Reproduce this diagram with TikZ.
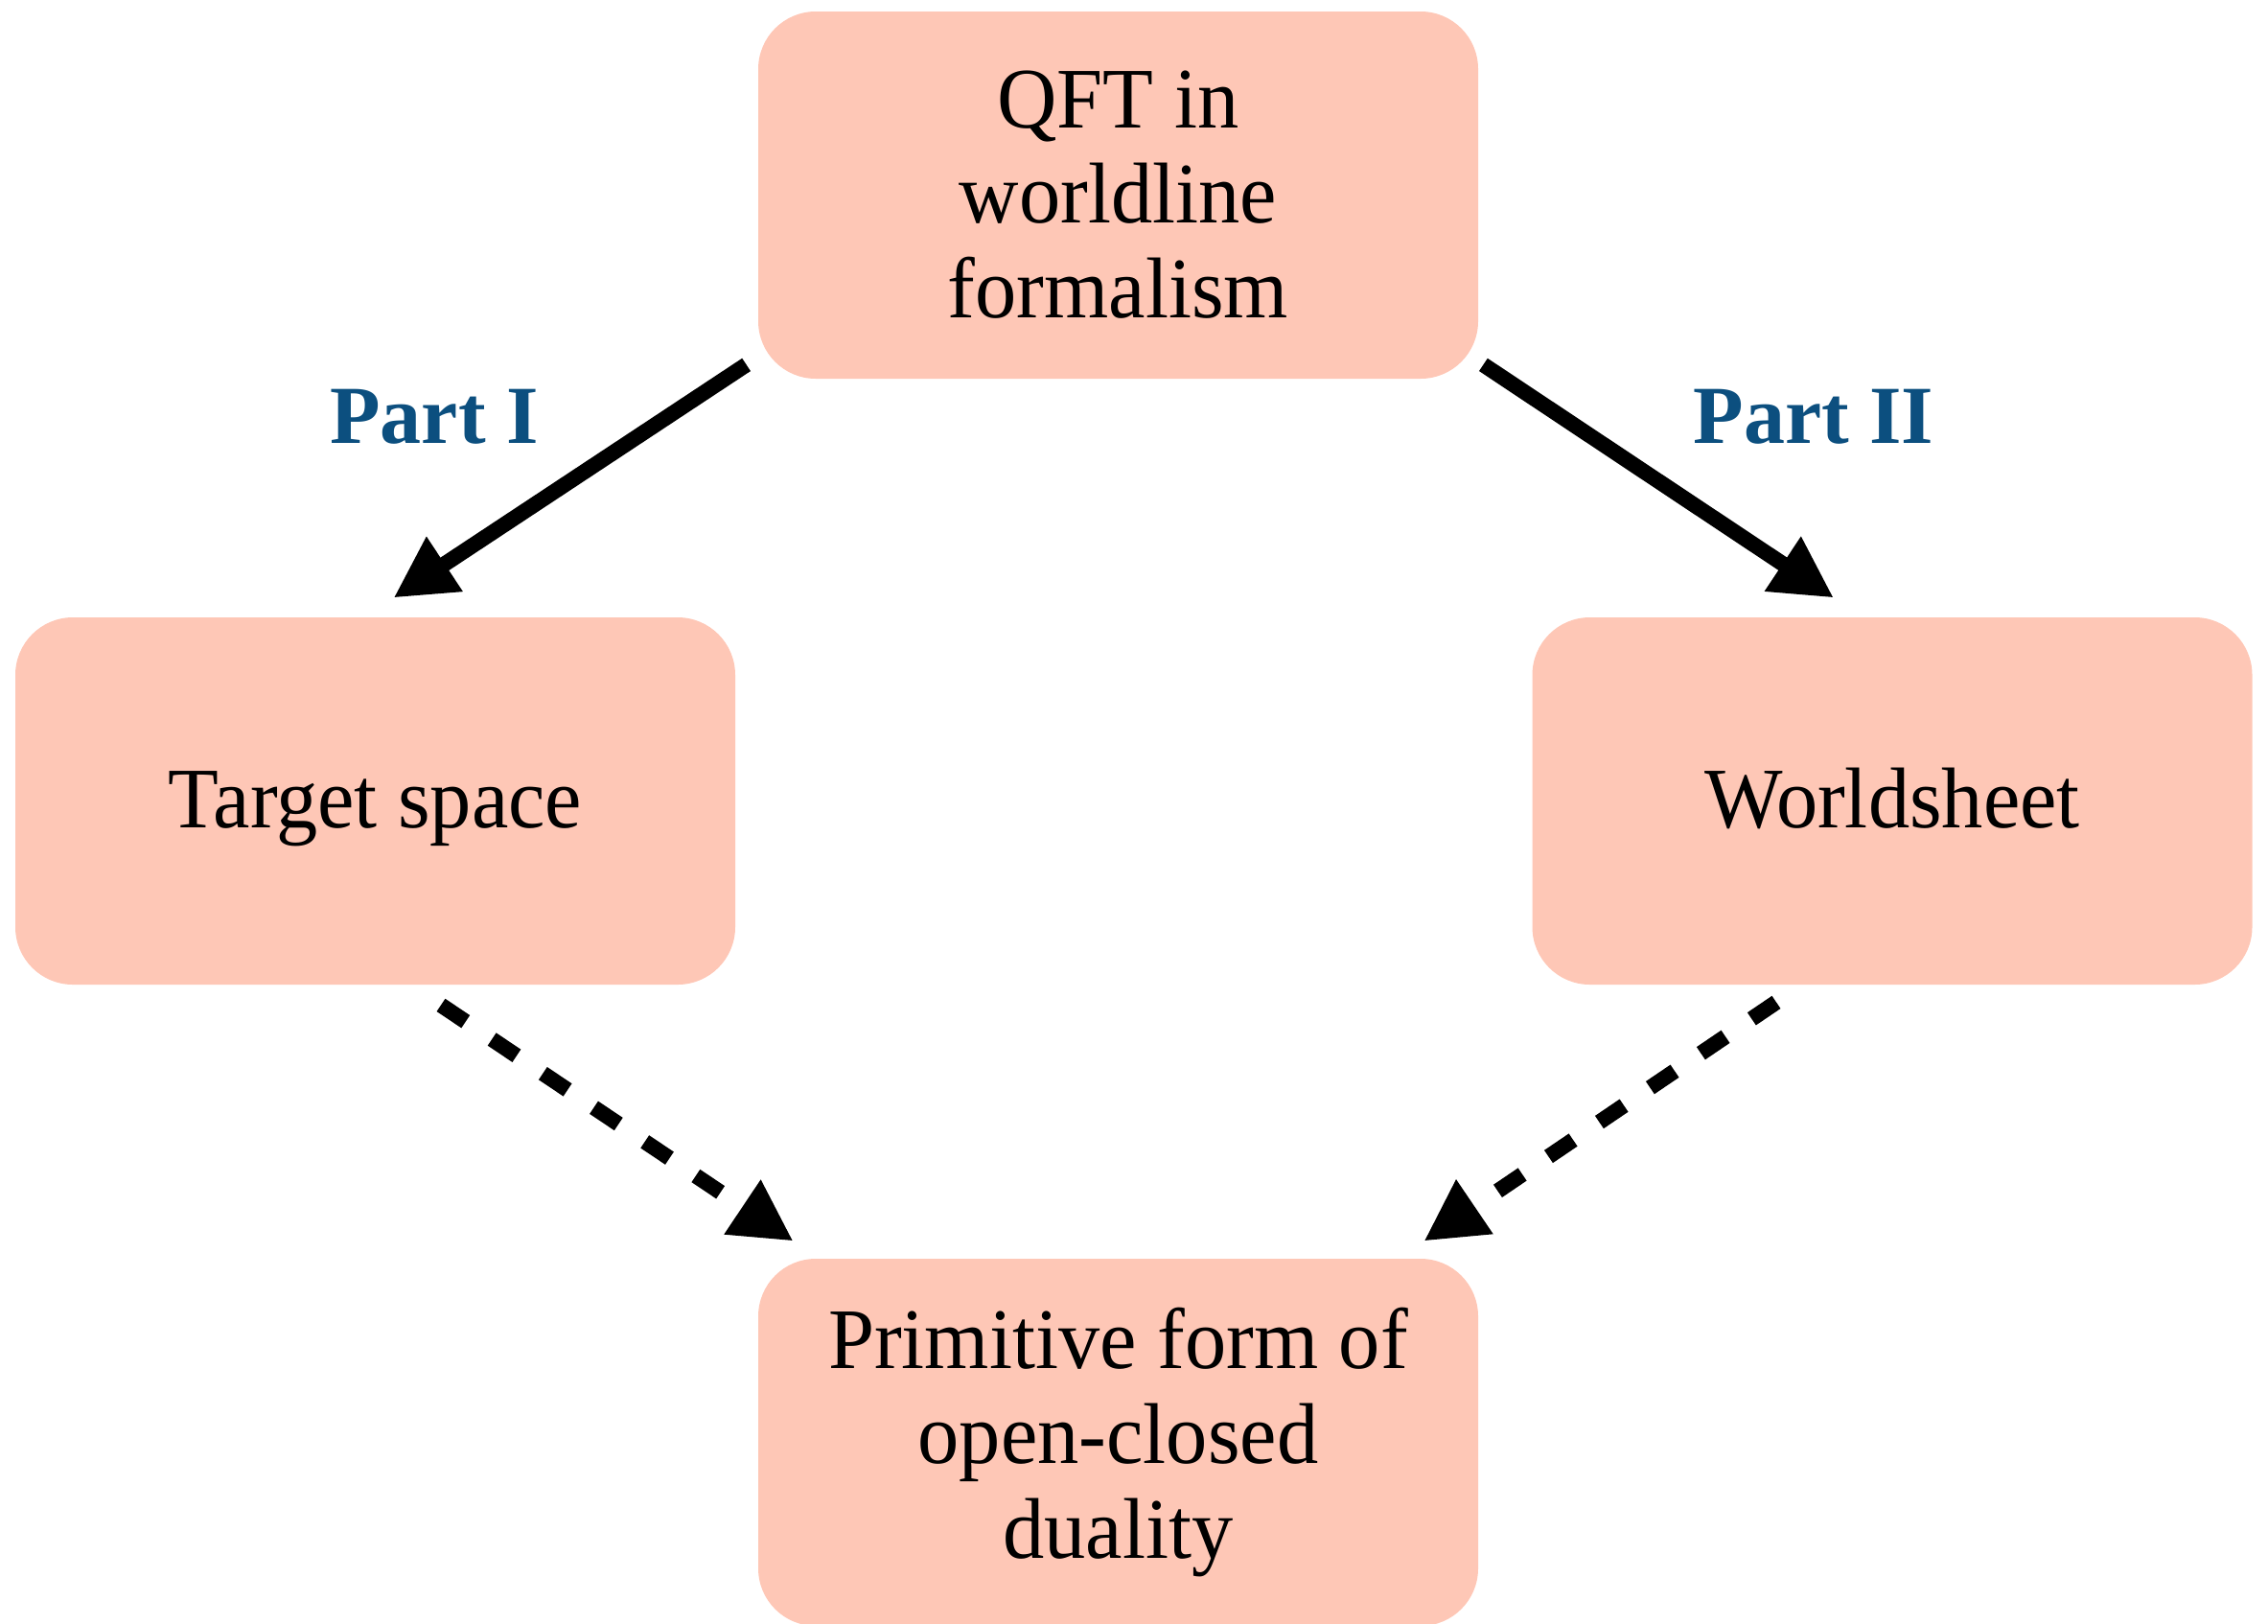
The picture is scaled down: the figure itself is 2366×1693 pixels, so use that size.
\documentclass[tikz,border=0pt]{standalone}
\usepackage{fontspec}
\setmainfont{Liberation Serif}
\newfontfamily\bodyfont[FakeStretch=0.96]{Liberation Serif}
\usetikzlibrary{arrows.meta}
\definecolor{boxfill}{RGB}{254,199,182}
\definecolor{partblue}{RGB}{12,79,127}
\tikzset{
  box/.style={rounded corners=30pt, fill=boxfill, draw=none, minimum width=375.5pt, minimum height=191.5pt,
    inner sep=0pt, align=center, font=\bodyfont\fontsize{45}{49.5}\selectfont},
  oneline/.style={text height=28pt, text depth=0pt},
  partlabel/.style={text=partblue, font=\fontsize{43}{48}\selectfont\bfseries},
  solidarrow/.style={line width=8pt, -{Triangle[length=32pt,width=32pt]}},
  dasharrow/.style={line width=8pt, dash pattern=on 15.5pt off 16.5pt, -{Triangle[length=32pt,width=32pt]}}
}
\begin{document}
\begin{tikzpicture}[x=0.5pt,y=-0.5pt]
\useasboundingbox (0,0) rectangle (2366,1693);
\clip (0,0) rectangle (2366,1693);
\node[box] (top) at (1166.5,203.5) {QFT in\\worldline\\formalism};
\node[box, oneline] (left) at (391.5,835.5) {Target space};
\node[box, oneline] (right) at (1974,835.5) {Worldsheet};
\node[box] (bottom) at (1166.5,1504.5) {Primitive form of\\open-closed\\duality};
\node[partlabel] (p1) at (453,435) {Part I};
\node[partlabel] (p2) at (1892,435) {Part II};
\draw[solidarrow] ([shift={(-12,-15)}]top.south west) -- ([shift={(19,-20)}]left.north);
\draw[solidarrow] ([shift={(5,-15)}]top.south east) -- ([shift={(-61,-20)}]right.north);
\draw[dasharrow] ([shift={(68.5,21)}]left.south) -- ([shift={(37,-18)}]bottom.north west);
\draw[dasharrow] ([shift={(-121,18)}]right.south) -- ([shift={(-57,-18)}]bottom.north east);
\end{tikzpicture}
\end{document}
